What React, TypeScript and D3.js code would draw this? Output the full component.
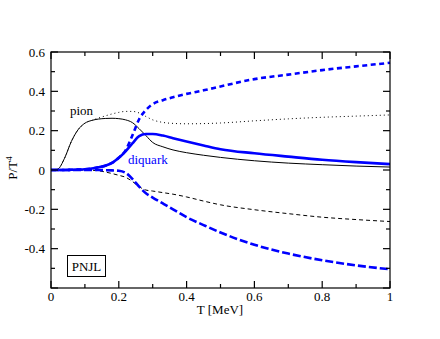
import React, { useEffect, useRef } from 'react';
import * as d3 from 'd3';

// temperature grid (x) shared by all curves
const temps = [0, 0.02, 0.04, 0.06, 0.08, 0.1, 0.12, 0.14, 0.16, 0.18, 0.2, 0.22, 0.24, 0.26, 0.28, 0.3, 0.33, 0.36, 0.4, 0.45, 0.5, 0.6, 0.7, 0.8, 0.9, 1.0];

// pion curves (black)
const pionSolid = [0, 0.005, 0.06, 0.145, 0.205, 0.238, 0.252, 0.259, 0.262, 0.263, 0.261, 0.255, 0.241, 0.21, 0.175, 0.14, 0.118, 0.102, 0.088, 0.075, 0.064, 0.047, 0.035, 0.027, 0.02, 0.015];
const pionDotted = [0, 0.005, 0.06, 0.145, 0.205, 0.238, 0.252, 0.264, 0.275, 0.285, 0.293, 0.298, 0.298, 0.29, 0.272, 0.255, 0.242, 0.237, 0.235, 0.236, 0.239, 0.25, 0.26, 0.268, 0.274, 0.28];
const pionDashed = [0, 0, 0, 0, 0, 0, -0.001, -0.004, -0.01, -0.018, -0.027, -0.037, -0.058, -0.085, -0.102, -0.107, -0.115, -0.123, -0.137, -0.158, -0.177, -0.202, -0.222, -0.24, -0.252, -0.262];

// diquark curves (blue)
const diqSolid = [0, 0, 0, 0.001, 0.002, 0.004, 0.008, 0.014, 0.022, 0.036, 0.062, 0.095, 0.135, 0.172, 0.183, 0.183, 0.175, 0.162, 0.145, 0.125, 0.106, 0.085, 0.068, 0.052, 0.04, 0.03];
const diqShortDash = [0, 0, 0, 0.001, 0.002, 0.004, 0.008, 0.014, 0.022, 0.036, 0.062, 0.1, 0.175, 0.258, 0.305, 0.335, 0.355, 0.37, 0.387, 0.405, 0.425, 0.462, 0.485, 0.508, 0.527, 0.545];
const diqLongDash = [0, 0, 0, 0, 0, 0, 0, 0, -0.001, -0.002, -0.004, -0.014, -0.045, -0.085, -0.118, -0.14, -0.17, -0.2, -0.24, -0.28, -0.318, -0.38, -0.425, -0.459, -0.485, -0.505];

const xTickLabels = ['0', '0.2', '0.4', '0.6', '0.8', '1'];
const yTickLabels = ['-0.4', '-0.2', '0', '0.2', '0.4', '0.6'];

const ChartPNJL = () => {
  const ref = useRef<SVGSVGElement | null>(null);

  useEffect(() => {
    const svg = d3.select(ref.current);
    svg.selectAll('*').remove();
    const font = "'Liberation Serif', 'Times New Roman', serif";

    const x = d3.scaleLinear().domain([0, 1]).range([51, 390]);
    const y = d3.scaleLinear().domain([-0.6, 0.6]).range([288, 52]);

    const series = [
      { vals: pionSolid, color: '#000', width: 1, dash: null },
      { vals: pionDotted, color: '#000', width: 1, dash: '1,3' },
      { vals: pionDashed, color: '#000', width: 1, dash: '4,3' },
      { vals: diqSolid, color: '#0000ff', width: 2.6, dash: null },
      { vals: diqShortDash, color: '#0000ff', width: 2.6, dash: '5,3.5' },
      { vals: diqLongDash, color: '#0000ff', width: 2.6, dash: '8,3' },
    ];

    const line = d3
      .line<number>()
      .x((_, i) => x(temps[i]))
      .y(d => y(d))
      .curve(d3.curveMonotoneX);

    svg
      .append('g')
      .selectAll('path')
      .data(series)
      .enter()
      .append('path')
      .attr('fill', 'none')
      .attr('stroke', d => d.color)
      .attr('stroke-width', d => d.width)
      .attr('stroke-dasharray', d => d.dash)
      .attr('d', d => line(d.vals));

    // frame
    svg
      .append('rect')
      .attr('x', x(0))
      .attr('y', y(0.6))
      .attr('width', x(1) - x(0))
      .attr('height', y(-0.6) - y(0.6))
      .attr('fill', 'none')
      .attr('stroke', '#000')
      .attr('stroke-width', 1.2);

    // ticks, all pointing inwards
    const xMajor = d3.range(0, 1.01, 0.2);
    const xMinor = d3.range(0.1, 1, 0.2);
    const yMajor = d3.range(-0.6, 0.61, 0.2);
    const yMinor = d3.range(-0.5, 0.6, 0.2);
    const tk = svg.append('g').attr('stroke', '#000').attr('stroke-width', 1.2);
    const xt = [...xMajor.map(v => ({ v, l: 7 })), ...xMinor.map(v => ({ v, l: 4 }))];
    const yt = [...yMajor.map(v => ({ v, l: 7 })), ...yMinor.map(v => ({ v, l: 4 }))];
    xt.forEach(t => {
      tk.append('line').attr('x1', x(t.v)).attr('x2', x(t.v)).attr('y1', y(-0.6)).attr('y2', y(-0.6) - t.l);
      tk.append('line').attr('x1', x(t.v)).attr('x2', x(t.v)).attr('y1', y(0.6)).attr('y2', y(0.6) + t.l);
    });
    yt.forEach(t => {
      tk.append('line').attr('y1', y(t.v)).attr('y2', y(t.v)).attr('x1', x(0)).attr('x2', x(0) + t.l);
      tk.append('line').attr('y1', y(t.v)).attr('y2', y(t.v)).attr('x1', x(1)).attr('x2', x(1) - t.l);
    });

    // tick labels
    svg
      .append('g')
      .selectAll('text')
      .data(xTickLabels)
      .enter()
      .append('text')
      .attr('x', d => x(+d))
      .attr('y', 301)
      .attr('text-anchor', 'middle')
      .attr('font-family', font)
      .attr('font-size', 13)
      .text(d => d);

    svg
      .append('g')
      .selectAll('text')
      .data(yTickLabels)
      .enter()
      .append('text')
      .attr('x', 45)
      .attr('y', d => y(+d) + 4.5)
      .attr('text-anchor', 'end')
      .attr('font-family', font)
      .attr('font-size', 13)
      .text(d => d);

    // axis titles
    svg
      .append('text')
      .attr('x', 220)
      .attr('y', 314)
      .attr('text-anchor', 'middle')
      .attr('font-family', font)
      .attr('font-size', 13)
      .text('T [MeV]');

    const yl = svg
      .append('text')
      .attr('transform', 'translate(17,168) rotate(-90)')
      .attr('text-anchor', 'middle')
      .attr('font-family', font)
      .attr('font-size', 13);
    yl.append('tspan').text('P/T');
    yl.append('tspan').attr('dy', -5).attr('font-size', 9).text('4');

    // annotations
    svg
      .append('text')
      .attr('x', 70)
      .attr('y', 115)
      .attr('font-family', font)
      .attr('font-size', 13)
      .text('pion');

    svg
      .append('text')
      .attr('x', 128)
      .attr('y', 164)
      .attr('fill', '#0000ff')
      .attr('font-family', font)
      .attr('font-size', 13)
      .text('diquark');

    svg
      .append('rect')
      .attr('x', 67.5)
      .attr('y', 255.5)
      .attr('width', 38)
      .attr('height', 21)
      .attr('fill', 'none')
      .attr('stroke', '#000')
      .attr('stroke-width', 1);

    svg
      .append('text')
      .attr('x', 86.5)
      .attr('y', 270.5)
      .attr('text-anchor', 'middle')
      .attr('font-family', font)
      .attr('font-size', 13)
      .text('PNJL');
  }, []);

  return (
    <div style={{ position: 'absolute', left: 0, top: 0 }}>
      <svg ref={ref} width={440} height={339} style={{ display: 'block', background: '#fff' }} />
    </div>
  );
};

export default ChartPNJL;
